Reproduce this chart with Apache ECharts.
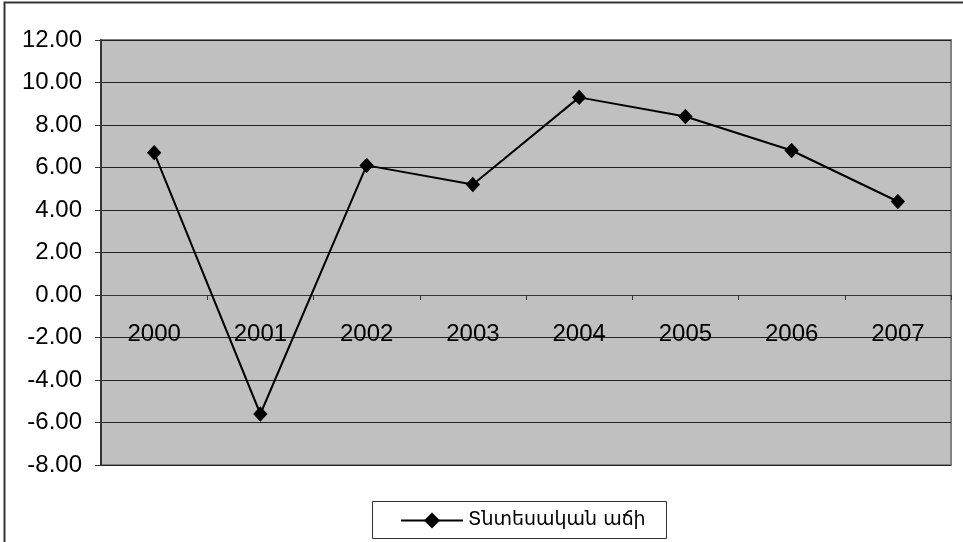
<!DOCTYPE html>
<html>
<head>
<meta charset="utf-8">
<script src="https://cdn.jsdelivr.net/npm/echarts@6/dist/echarts.min.js"></script>
<style>
html,body{margin:0;padding:0;background:#fff;}
#chart{width:963px;height:542px;}
</style>
</head>
<body>
<div id="chart"></div>
<script>
var years=['2000','2001','2002','2003','2004','2005','2006','2007'];
var growth=[6.7,-5.6,6.1,5.2,9.3,8.4,6.8,4.4];
var seriesName='Տնտեսական աճի';

var myChart=echarts.init(document.getElementById('chart'));
var option={
    animation:false,
    backgroundColor:'#fff',
    textStyle:{fontFamily:'Liberation Sans, Arial, sans-serif'},
    graphic:[
        {
            type:'rect',
            shape:{x:4.5,y:2.5,width:970,height:560},
            style:{fill:'none',stroke:'#333',lineWidth:2},
            silent:true
        },
        {
            type:'rect',
            shape:{x:372.5,y:501.5,width:294,height:37},
            style:{fill:'#fff',stroke:'#333',lineWidth:1},
            silent:true,
            z:-1
        }
    ],
    grid:{
        left:101,right:12,top:40,bottom:77,
        show:true,
        backgroundColor:'#C0C0C0',
        borderColor:'#808080',
        borderWidth:2
    },
    legend:{
        data:[seriesName],
        left:395,
        top:506,
        itemWidth:62,
        itemHeight:20,
        textStyle:{
            fontFamily:'DejaVu Sans, Noto Sans, sans-serif',
            fontSize:19,
            color:'#000'
        }
    },
    xAxis:{
        type:'category',
        data:years,
        boundaryGap:true,
        position:'bottom',
        offset:-170,
        axisLine:{onZero:false,lineStyle:{color:'#333',width:1}},
        axisTick:{show:true,alignWithLabel:false,length:5,lineStyle:{color:'#333'}},
        axisLabel:{
            color:'#000',
            fontSize:24,
            margin:27
        },
        splitLine:{show:false}
    },
    yAxis:{
        type:'value',
        min:-8,
        max:12,
        interval:2,
        axisLine:{show:true,lineStyle:{color:'#333',width:2}},
        axisTick:{show:true,length:6,lineStyle:{color:'#333'}},
        axisLabel:{
            color:'#000',
            fontSize:24,
            margin:19,
            formatter:function(v){return v.toFixed(2);}
        },
        splitLine:{show:true,lineStyle:{color:'#222',width:1}}
    },
    series:[
        {
            name:seriesName,
            type:'line',
            data:growth,
            symbol:'diamond',
            symbolSize:[13,14],
            showAllSymbol:true,
            lineStyle:{color:'#000',width:2},
            itemStyle:{color:'#000',borderColor:'#000'}
        }
    ]
};
myChart.setOption(option);
</script>
</body>
</html>
